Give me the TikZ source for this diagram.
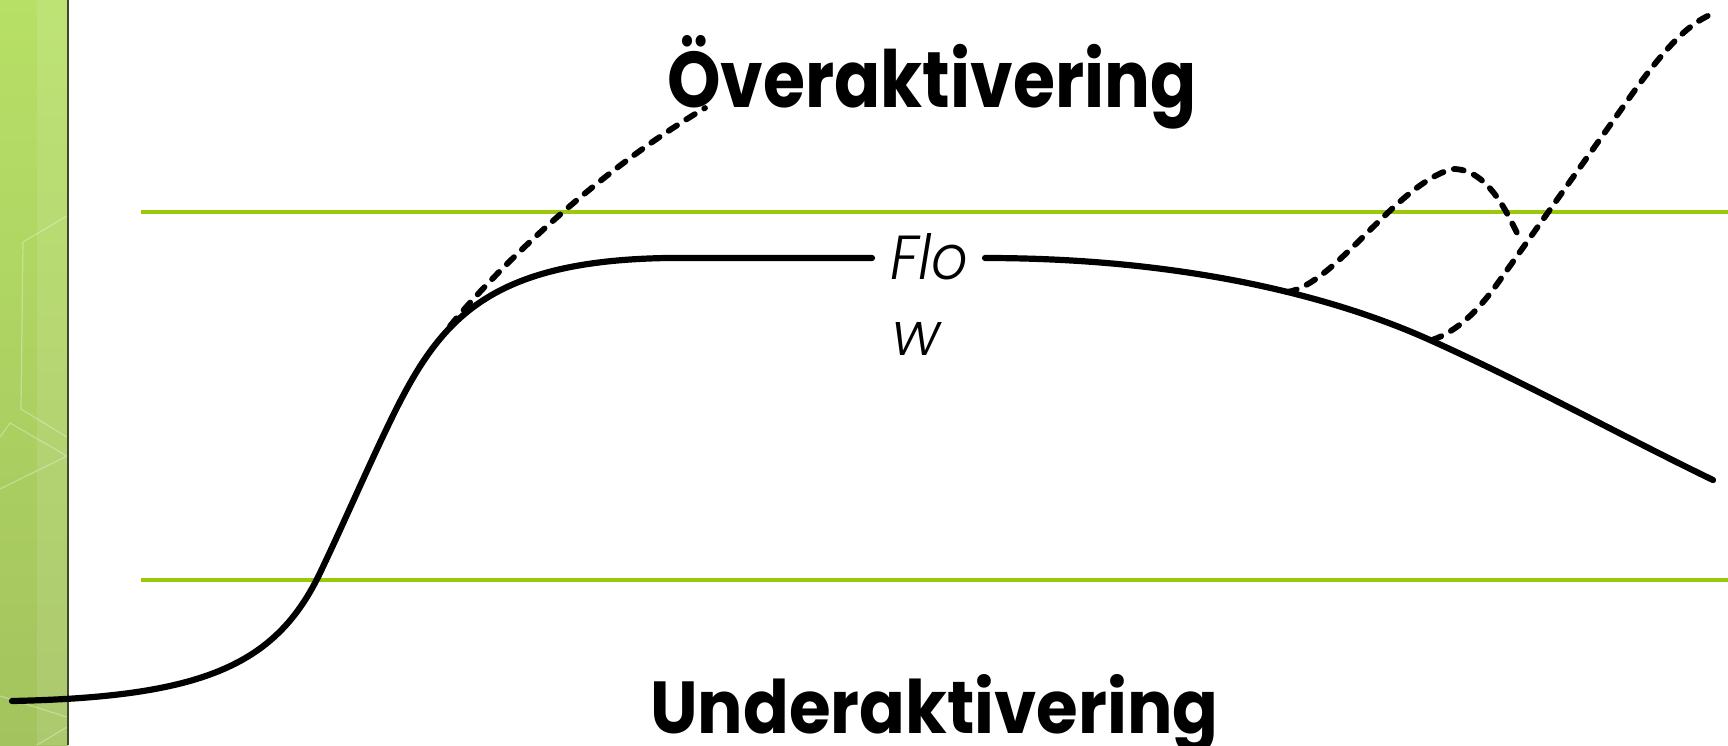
\documentclass[tikz,border=0pt]{standalone}
\usepackage{fontspec}
\setmainfont{Poppins}
\newfontfamily\poplight{Poppins}[UprightFont={* Light Italic}]
\usepackage{graphicx}
\definecolor{linegreen}{RGB}{155,201,10}
\definecolor{striptop}{RGB}{183,224,102}
\definecolor{stripbot}{RGB}{163,195,94}
\definecolor{stripedge}{RGB}{62,72,42}
\tikzset{
  curve/.style={line width=6.2pt, black, line cap=round},
  dashcurve/.style={line width=5.8pt, black, line cap=round, dash pattern=on 10pt off 11pt},
  level/.style={line width=3.6pt, linegreen},
  hexline/.style={white, opacity=0.3, line width=1.2pt},
  lbl/.style={inner sep=0pt, anchor=base west}
}
\begin{document}
\begin{tikzpicture}[x=1pt,y=-1pt]
\useasboundingbox (0,0) rectangle (1728,745);
\fill[white] (0,0) rectangle (1728,745);
% left strip
\shade[top color=striptop, bottom color=stripbot] (0,0) rectangle (68,745);
\fill[white, opacity=0.1] (37,0) rectangle (68,745);
\draw[hexline] (67,216) -- (23,242) -- (21,409) -- (67,437);
\draw[hexline] (0,437) -- (10,423) -- (67,456) -- (0,489);
\draw[hexline] (0,696) -- (67,717);
\draw[hexline] (37,745) -- (67,727);
\draw[line width=2.2pt, stripedge] (68,0) -- (68,745);
% level lines
\draw[level] (141,212) -- (1728,212);
\draw[level] (141,580) -- (1728,580);
% texts
\node[lbl] (over) at (667,107) {\resizebox{529pt}{72pt}{\bfseries Överaktivering}};
\node[lbl] (under) at (650,733) {\resizebox{568pt}{59pt}{\bfseries Underaktivering}};
\node[lbl] (flo) at (890,279) {\resizebox{78pt}{46pt}{\poplight Flo}};
\node[lbl] (w) at (892,355) {\resizebox{48pt}{33pt}{\poplight w}};
% solid curve
\coordinate (s0) at (12,701);
\coordinate (s1) at (320,573);
\coordinate (s2) at (386,430);
\coordinate (s3) at (667,258);
\coordinate (s4) at (872,258);
\coordinate (s5) at (985,258);
\coordinate (s6) at (1430,340);
\coordinate (s7) at (1713,480);
\draw[curve] (s0) .. controls (200,697) and (275,667) .. (s1)
  .. controls (342,527) and (364,476) .. (s2)
  .. controls (436,325) and (480,261) .. (s3) -- (s4);
\draw[curve] (s5) .. controls (1180,258) and (1330,295) .. (s6)
  .. controls (1530,385) and (1620,435) .. (s7);
% dashed curves
\coordinate (d1a) at (450,326);
\coordinate (d1b) at (705,108);
\draw[dashcurve] (d1a) .. controls (500,265) and (600,170) .. (d1b);
\coordinate (d2a) at (1287,292);
\coordinate (d2b) at (1452,169);
\coordinate (d2c) at (1521,241);
\draw[dashcurve] (d2a) .. controls (1335,285) and (1395,185) .. (d2b)
  .. controls (1490,168) and (1510,220) .. (d2c);
\coordinate (d3a) at (1432,340);
\coordinate (d3b) at (1495,287);
\coordinate (d3c) at (1630,97);
\coordinate (d3d) at (1712,14);
\draw[dashcurve] (d3a) .. controls (1458,331) and (1478,310) .. (d3b) -- (d3c)
  .. controls (1660,55) and (1685,25) .. (d3d);
\end{tikzpicture}
\end{document}
